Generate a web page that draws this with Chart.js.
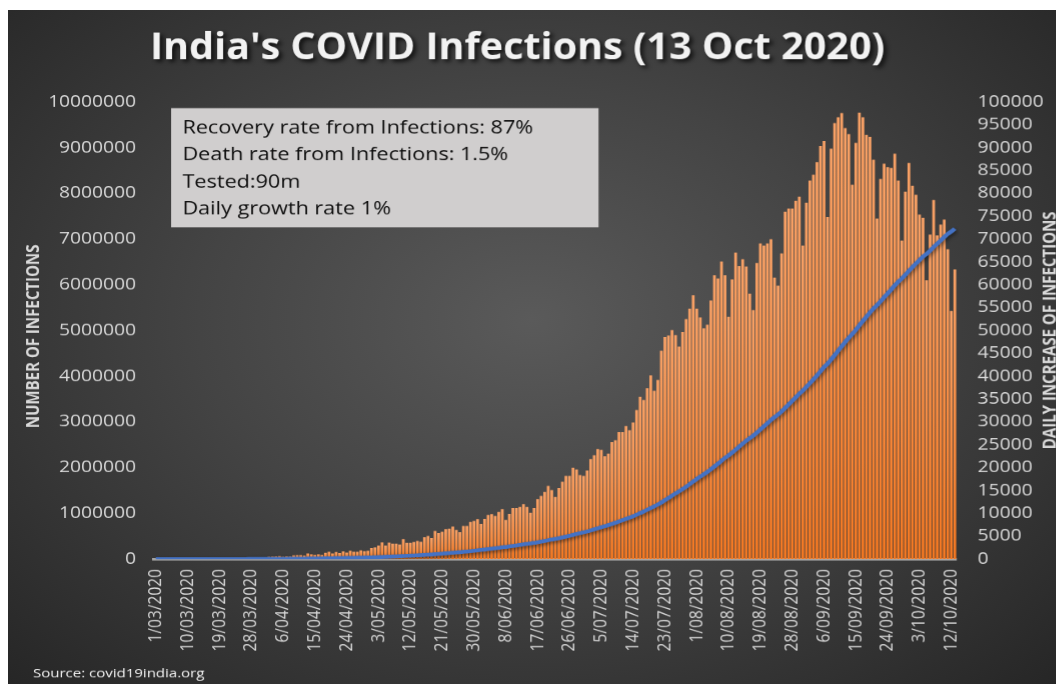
<!DOCTYPE html>
<html>
<head>
<meta charset="utf-8">
<title>India's COVID Infections</title>
<script src="https://cdn.jsdelivr.net/npm/chart.js@4.4.1/dist/chart.umd.min.js"></script>
<style>
  html, body { margin: 0; padding: 0; background: #fff; overflow: hidden; width: 1056px; height: 684px; }
  #bg {
    position: absolute; left: 8px; top: 10px; right: 0; bottom: 0;
    background: radial-gradient(ellipse farthest-corner at 50% 46%, #5a5a5a 0%, #444 45%, #262626 100%);
  }
  /* the source picture is stretched sideways, so the chart is too */
  #chart { position: absolute; left: 0; top: 0; transform: scaleX(1.2); transform-origin: 0 0; }
</style>
</head>
<body>
<div id="bg"></div>
<canvas id="chart" width="888" height="684"></canvas>
<script>
const titleText = "India's COVID Infections (13 Oct 2020)";
const notes = [
  "Recovery rate from Infections: 87%",
  "Death rate from Infections: 1.5%",
  "Tested:90m",
  "Daily growth rate 1%"
];
const sourceText = "Source: covid19india.org";

const months = ["03", "04", "05", "06", "07", "08", "09", "10"];
const tickEvery = 9;

// daily increase of infections, one array per month
const dailyMar = [0, 2, 1, 22, 2, 1, 3, 5, 9, 15, 8, 10, 10, 12, 11, 14, 18, 35, 30, 58, 78, 69, 94, 74, 86, 73, 153, 136, 120, 187, 309];
const dailyApr = [424, 486, 560, 579, 609, 484, 573, 565, 813, 871, 854, 758, 1243, 1031, 886, 1061, 922, 1371, 1580, 1239, 1537, 1292, 1667, 1408, 1835, 1607, 1568, 1902, 1705, 1801];
const dailyMay = [2400, 2550, 2950, 3650, 2950, 3600, 3350, 3350, 3200, 4350, 3550, 3550, 3750, 3950, 3800, 4800, 5050, 4600, 6150, 5700, 5950, 6550, 6650, 7100, 6400, 5900, 7250, 7250, 8100, 8350, 8750];
const dailyJun = [7700, 8800, 9650, 9850, 9450, 10300, 10950, 8550, 9900, 11150, 11150, 11400, 12050, 11400, 10100, 11150, 13150, 13800, 14700, 16000, 15100, 13600, 15550, 16900, 18200, 18200, 20000, 19600, 18400, 18200];
const dailyJul = [19400, 21900, 22700, 24100, 23900, 22500, 23100, 25600, 26000, 27800, 27800, 29100, 28200, 29900, 32600, 35500, 34800, 37400, 40200, 36800, 39200, 45600, 48600, 48900, 50100, 49000, 46500, 49700, 52500, 54800, 57700];
const dailyAug = [54800, 52900, 50500, 51300, 56600, 62100, 61400, 65100, 62100, 53000, 61200, 67100, 64100, 65600, 64000, 58100, 54500, 64800, 69100, 68600, 69100, 70000, 61600, 59800, 66900, 76000, 76700, 76700, 78400, 79300, 68600];
const dailySep = [78000, 82800, 84100, 86900, 90400, 91500, 74900, 89800, 95400, 96700, 97600, 94300, 93000, 81900, 91100, 97700, 96700, 92800, 92400, 87400, 74500, 83200, 86500, 85800, 85600, 88700, 82800, 69700, 80400, 86700];
const dailyOct = [81700, 79700, 75400, 74700, 61000, 71000, 78600, 70800, 73200, 74300, 67800, 54300, 63400];

// number of infections (running total), one array per month
const totalMar = [3, 5, 6, 28, 30, 31, 34, 39, 48, 63, 71, 81, 91, 103, 114, 128, 146, 181, 211, 269, 347, 416, 510, 584, 670, 743, 896, 1032, 1152, 1339, 1648];
const totalApr = [2072, 2558, 3118, 3697, 4306, 4790, 5363, 5928, 6741, 7612, 8466, 9224, 10467, 11498, 12384, 13445, 14367, 15738, 17318, 18557, 20094, 21386, 23053, 24461, 26296, 27903, 29471, 31373, 33078, 34879];
const totalMay = [37279, 39829, 42779, 46429, 49379, 52979, 56329, 59679, 62879, 67229, 70779, 74329, 78079, 82029, 85829, 90629, 95679, 100279, 106429, 112129, 118079, 124629, 131279, 138379, 144779, 150679, 157929, 165179, 173279, 181629, 190379];
const totalJun = [198079, 206879, 216529, 226379, 235829, 246129, 257079, 265629, 275529, 286679, 297829, 309229, 321279, 332679, 342779, 353929, 367079, 380879, 395579, 411579, 426679, 440279, 455829, 472729, 490929, 509129, 529129, 548729, 567129, 585329];
const totalJul = [604729, 626629, 649329, 673429, 697329, 719829, 742929, 768529, 794529, 822329, 850129, 879229, 907429, 937329, 969929, 1005429, 1040229, 1077629, 1117829, 1154629, 1193829, 1239429, 1288029, 1336929, 1387029, 1436029, 1482529, 1532229, 1584729, 1639529, 1697229];
const totalAug = [1752029, 1804929, 1855429, 1906729, 1963329, 2025429, 2086829, 2151929, 2214029, 2267029, 2328229, 2395329, 2459429, 2525029, 2589029, 2647129, 2701629, 2766429, 2835529, 2904129, 2973229, 3043229, 3104829, 3164629, 3231529, 3307529, 3384229, 3460929, 3539329, 3618629, 3687229];
const totalSep = [3765229, 3848029, 3932129, 4019029, 4109429, 4200929, 4275829, 4365629, 4461029, 4557729, 4655329, 4749629, 4842629, 4924529, 5015629, 5113329, 5210029, 5302829, 5395229, 5482629, 5557129, 5640329, 5726829, 5812629, 5898229, 5986929, 6069729, 6139429, 6219829, 6306529];
const totalOct = [6388229, 6467929, 6543329, 6618029, 6679029, 6750029, 6828629, 6899429, 6972629, 7046929, 7114729, 7169029, 7232429];

const dailyByMonth = [dailyMar, dailyApr, dailyMay, dailyJun, dailyJul, dailyAug, dailySep, dailyOct];
const totalByMonth = [totalMar, totalApr, totalMay, totalJun, totalJul, totalAug, totalSep, totalOct];

// one category per day, e.g. "1/03/2020"
const labels = [];
dailyByMonth.forEach((arr, m) => {
  arr.forEach((v, d) => labels.push((d + 1) + "/" + months[m] + "/2020"));
});
const daily = [].concat(...dailyByMonth);
const total = [].concat(...totalByMonth);

Chart.defaults.font.family = '"Open Sans", sans-serif';
Chart.defaults.color = "#d9d9d9";

// each bar is lighter at its top and deeper at its base
function barFill(c) {
  const chart = c.chart;
  if (!chart.chartArea || c.raw == null) return "#f47c2c";
  const yScale = chart.scales.y1;
  const top = yScale.getPixelForValue(c.raw);
  const base = yScale.getPixelForValue(0);
  if (base - top < 1) return "#f48c4c";
  const g = chart.ctx.createLinearGradient(0, top, 0, base);
  g.addColorStop(0, "#f9a267");
  g.addColorStop(1, "#f57821");
  return g;
}

// title, note box, source and axis titles, plus a soft shadow on the line
const decor = {
  id: "decor",
  beforeDatasetDraw(chart, args) {
    const ctx = chart.ctx;
    ctx.save();
    if (args.index === 0) {
      ctx.shadowColor = "rgba(0,0,0,0.5)";
      ctx.shadowBlur = 4;
      ctx.shadowOffsetX = 1;
      ctx.shadowOffsetY = 2;
    }
  },
  afterDatasetDraw(chart) {
    chart.ctx.restore();
  },
  afterDraw(chart) {
    const ctx = chart.ctx;

    // title, squeezed to the width it has in the picture
    ctx.save();
    ctx.font = 'bold 37px "Open Sans"';
    const w = ctx.measureText(titleText).width;
    ctx.translate(431, 49);
    ctx.scale(612 / w, 1);
    ctx.textAlign = "center";
    ctx.textBaseline = "middle";
    ctx.shadowColor = "rgba(0,0,0,0.75)";
    ctx.shadowBlur = 5;
    ctx.shadowOffsetX = 3;
    ctx.shadowOffsetY = 3;
    ctx.fillStyle = "#f2f2f2";
    ctx.fillText(titleText, 0, 0);
    ctx.restore();

    // note box
    ctx.save();
    ctx.fillStyle = "#d0cece";
    ctx.fillRect(142.5, 108, 356, 119);
    ctx.fillStyle = "#0d0d0d";
    ctx.font = '18px "Open Sans"';
    ctx.textBaseline = "alphabetic";
    notes.forEach((t, i) => ctx.fillText(t, 152, 133.5 + i * 26.8));
    ctx.restore();

    // source
    ctx.save();
    ctx.fillStyle = "#f2f2f2";
    ctx.font = '12.5px "Open Sans"';
    ctx.fillText(sourceText, 27.5, 676.5);
    ctx.restore();

    // axis titles, both read bottom to top
    ctx.save();
    ctx.fillStyle = "#d9d9d9";
    ctx.font = 'bold 15px "Open Sans"';
    ctx.textAlign = "center";
    ctx.textBaseline = "middle";
    ctx.translate(28.5, 336);
    ctx.rotate(-Math.PI / 2);
    ctx.fillText("NUMBER OF INFECTIONS", 0, 0);
    ctx.restore();

    ctx.save();
    ctx.fillStyle = "#d9d9d9";
    ctx.font = 'bold 15px "Open Sans"';
    ctx.textAlign = "center";
    ctx.textBaseline = "middle";
    ctx.translate(875, 330);
    ctx.rotate(-Math.PI / 2);
    ctx.fillText("DAILY INCREASE OF INFECTIONS", 0, 0);
    ctx.restore();
  }
};

new Chart(document.getElementById("chart"), {
  data: {
    labels: labels,
    datasets: [
      {
        type: "line",
        label: "Number of infections",
        data: total,
        yAxisID: "y",
        borderColor: "#4472c4",
        borderWidth: 3.8,
        pointRadius: 0,
        tension: 0.3,
        order: 1
      },
      {
        type: "bar",
        label: "Daily increase",
        data: daily,
        yAxisID: "y1",
        backgroundColor: barFill,
        categoryPercentage: 1,
        barPercentage: 0.78,
        order: 2
      }
    ]
  },
  options: {
    responsive: false,
    devicePixelRatio: 1.2,
    animation: false,
    layout: { padding: { top: 102, left: 0, right: 0, bottom: 0 } },
    plugins: {
      legend: { display: false },
      tooltip: { enabled: false }
    },
    scales: {
      x: {
        offset: true,
        grid: { display: true, color: "rgba(0,0,0,0)", drawTicks: false },
        border: { display: true, color: "#a6a6a6", width: 2.5 },
        ticks: {
          autoSkip: false,
          minRotation: 90,
          maxRotation: 90,
          padding: 10,
          color: "#d9d9d9",
          font: { size: 15.5 },
          callback: (v, i) => (i % tickEvery === 0 ? labels[i] : "")
        },
        afterFit: (s) => { s.height = 125.5; }
      },
      y: {
        position: "left",
        min: 0,
        max: 10000000,
        grid: { display: false, drawTicks: false },
        border: { display: false },
        ticks: {
          stepSize: 1000000,
          padding: 15,
          color: "#d9d9d9",
          font: { size: 16 },
          callback: (v) => String(v)
        },
        afterFit: (s) => { s.width = 128.3; }
      },
      y1: {
        position: "right",
        min: 0,
        max: 100000,
        grid: { display: false, drawTicks: false },
        border: { display: false },
        ticks: {
          stepSize: 5000,
          padding: 17.5,
          color: "#d9d9d9",
          font: { size: 16 },
          callback: (v) => String(v)
        },
        afterFit: (s) => { s.width = 91.3; }
      }
    }
  },
  plugins: [decor]
});
</script>
</body>
</html>
